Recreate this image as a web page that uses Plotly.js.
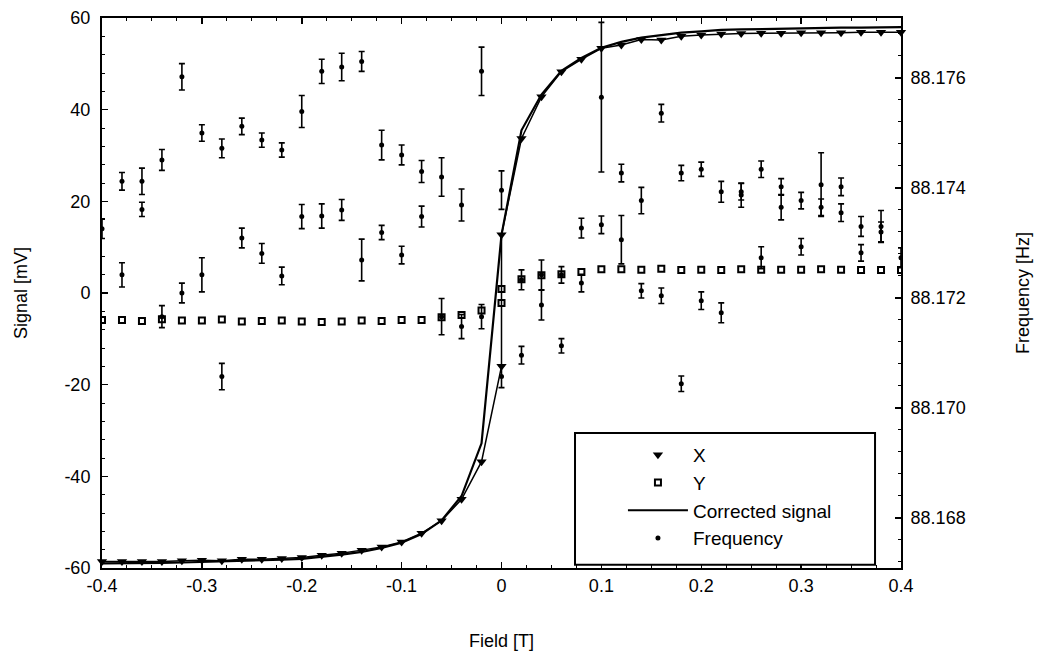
<!DOCTYPE html>
<html>
<head>
<meta charset="utf-8">
<script src="https://cdn.plot.ly/plotly-3.0.1.min.js"></script>
<style>html,body{margin:0;padding:0;background:#fff;}#chart{width:1042px;height:659px;}</style>
</head>
<body>
<div id="chart"></div>
<script>
// Field values for the lock-in signal (two readings at 0 T)
var signalField = [-0.40,-0.38,-0.36,-0.34,-0.32,-0.30,-0.28,-0.26,-0.24,-0.22,-0.20,-0.18,-0.16,-0.14,-0.12,-0.10,-0.08,-0.06,-0.04,-0.02,0.00,0.00,0.02,0.04,0.06,0.08,0.10,0.12,0.14,0.16,0.18,0.20,0.22,0.24,0.26,0.28,0.30,0.32,0.34,0.36,0.38,0.40];
var signalX = [-58.6,-58.6,-58.6,-58.6,-58.4,-58.3,-58.4,-58.1,-58.1,-57.9,-57.7,-57.2,-56.8,-56.1,-55.4,-54.3,-52.4,-49.7,-45.0,-36.8,-16.0,12.7,33.7,42.8,48.3,51.0,53.4,54.1,55.3,55.2,56.0,56.3,56.5,56.6,56.7,56.7,56.8,56.8,56.8,56.9,56.9,56.9];
var signalY = [-5.9,-5.9,-6.1,-5.7,-6.0,-6.0,-5.8,-6.2,-6.1,-6.0,-6.2,-6.3,-6.2,-6.0,-6.1,-5.9,-5.9,-5.3,-4.8,-3.8,-2.2,0.9,3.0,3.9,4.1,4.6,5.2,5.2,5.1,5.3,5.0,5.1,5.0,5.2,5.1,5.1,5.1,5.2,5.1,5.0,5.0,5.0];
var correctedSignal = [-59.0,-59.0,-58.9,-58.9,-58.8,-58.7,-58.6,-58.5,-58.4,-58.2,-58.0,-57.6,-57.1,-56.5,-55.6,-54.5,-52.6,-49.6,-44.3,-32.8,12.7,12.7,35.5,43.3,48.5,51.3,53.5,54.8,55.7,56.3,56.8,57.1,57.4,57.5,57.6,57.7,57.8,57.8,57.9,57.9,58.0,58.0];

// Frequency readings: two sweeps on the same field grid
var freqField = [-0.40,-0.38,-0.36,-0.34,-0.32,-0.30,-0.28,-0.26,-0.24,-0.22,-0.20,-0.18,-0.16,-0.14,-0.12,-0.10,-0.08,-0.06,-0.04,-0.02,0.00,0.02,0.04,0.06,0.08,0.10,0.12,0.14,0.16,0.18,0.20,0.22,0.24,0.26,0.28,0.30,0.32,0.34,0.36,0.38,0.40];
var freqSweepA = [88.17326,88.17412,88.17412,88.17451,88.17602,88.17500,88.17472,88.17512,88.17487,88.17469,88.17539,88.17612,88.17620,88.17630,88.17478,88.17460,88.17430,88.17420,88.17369,88.17612,88.17396,88.17233,88.17242,88.17242,88.17327,88.17565,88.17427,88.17377,88.17536,88.17427,88.17434,88.17393,88.17387,88.17434,88.17402,88.17377,88.17406,88.17402,88.17330,88.17330,88.17273];
var freqErrA = [0.00018,0.00016,0.00024,0.00019,0.00024,0.00015,0.00017,0.00015,0.00013,0.00013,0.00029,0.00022,0.00025,0.00018,0.00027,0.00018,0.00020,0.00035,0.00029,0.00044,0.00035,0.00018,0.00027,0.00015,0.00018,0.00136,0.00016,0.00024,0.00016,0.00014,0.00013,0.00019,0.00022,0.00015,0.00015,0.00015,0.00058,0.00016,0.00018,0.00029,0.00018];
var freqSweepB = [null,88.17242,88.17361,88.17166,88.17209,88.17242,88.17057,88.17309,88.17281,88.17240,88.17348,88.17349,88.17360,88.17269,88.17319,88.17278,88.17348,88.17166,88.17148,88.17166,88.17057,88.17096,88.17187,88.17113,88.17227,88.17333,88.17306,88.17213,88.17204,88.17044,88.17195,88.17173,88.17393,88.17273,88.17365,88.17293,88.17365,88.17355,88.17282,88.17320,null];
var freqErrB = [null,0.00022,0.00013,0.00020,0.00018,0.00031,0.00024,0.00018,0.00018,0.00016,0.00022,0.00022,0.00019,0.00038,0.00013,0.00016,0.00019,0.00033,0.00022,0.00022,0.00020,0.00016,0.00027,0.00013,0.00016,0.00016,0.00044,0.00013,0.00014,0.00014,0.00016,0.00018,0.00015,0.00020,0.00023,0.00015,0.00015,0.00016,0.00015,0.00018,null];

// Tick labels (hyphen minus as in the original)
var fieldTicks = [-0.4,-0.3,-0.2,-0.1,0,0.1,0.2,0.3,0.4];
var fieldTickText = ['-0.4','-0.3','-0.2','-0.1','0','0.1','0.2','0.3','0.4'];
var signalTicks = [-60,-40,-20,0,20,40,60];
var signalTickText = ['-60','-40','-20','0','20','40','60'];
var freqTicks = [88.168,88.170,88.172,88.174,88.176];
var freqTickText = ['88.168','88.170','88.172','88.174','88.176'];

var FONT = "Liberation Sans, Arial, sans-serif";
var FS = 18;

var traces = [
  {x: signalField, y: signalX, name: 'X', type: 'scatter', mode: 'markers',
   marker: {symbol: 'triangle-down', size: 9, color: '#000'}, cliponaxis: false},
  {x: signalField, y: signalX, type: 'scatter', mode: 'lines', showlegend: false, hoverinfo: 'skip',
   line: {color: '#000', width: 1.5}},
  {x: signalField, y: signalY, name: 'Y', type: 'scatter', mode: 'markers',
   marker: {symbol: 'square-open', size: 6, color: '#000', line: {width: 2, color: '#000'}}},
  {x: signalField, y: correctedSignal, name: 'Corrected signal', type: 'scatter', mode: 'lines',
   line: {color: '#000', width: 2.2}},
  {x: freqField.concat(freqField), y: freqSweepA.concat(freqSweepB), name: 'Frequency', type: 'scatter', mode: 'markers',
   yaxis: 'y2',
   marker: {symbol: 'circle', size: 5, color: '#000'},
   error_y: {type: 'data', array: freqErrA.concat(freqErrB), visible: true, color: '#000', thickness: 1.6, width: 3}}
];

var layout = {
  width: 1042, height: 659,
  margin: {l: 102, r: 141, t: 18, b: 91},
  paper_bgcolor: '#fff', plot_bgcolor: '#fff',
  font: {family: FONT, size: FS, color: '#000'},
  showlegend: true,
  xaxis: {
    range: [-0.4, 0.4], tickmode: 'array', tickvals: fieldTicks, ticktext: fieldTickText,
    showgrid: false, zeroline: false,
    showline: true, linewidth: 2, linecolor: '#000', mirror: 'ticks',
    ticks: 'inside', ticklen: 6, tickwidth: 1.5, tickcolor: '#000',
    minor: {dtick: 0.025, ticks: 'inside', ticklen: 3, tickwidth: 1, tickcolor: '#000'},
    tickfont: {family: FONT, size: FS},
    title: {text: 'Field [T]', font: {family: FONT, size: FS}, standoff: 40}
  },
  yaxis: {
    range: [-60, 60], tickmode: 'array', tickvals: signalTicks, ticktext: signalTickText,
    showgrid: false, zeroline: false,
    showline: true, linewidth: 2, linecolor: '#000',
    ticks: 'inside', ticklen: 6, tickwidth: 1.5, tickcolor: '#000',
    minor: {dtick: 4, ticks: 'inside', ticklen: 3, tickwidth: 1, tickcolor: '#000'},
    tickfont: {family: FONT, size: FS},
    ticklabelstandoff: 6,
    title: {text: 'Signal [mV]', font: {family: FONT, size: FS}, standoff: 32}
  },
  yaxis2: {
    overlaying: 'y', side: 'right',
    range: [88.16709, 88.17709], tickmode: 'array', tickvals: freqTicks, ticktext: freqTickText,
    showgrid: false, zeroline: false,
    showline: true, linewidth: 2, linecolor: '#000',
    ticks: 'inside', ticklen: 6, tickwidth: 1.5, tickcolor: '#000',
    minor: {dtick: 0.0004, tick0: 88.168, ticks: 'inside', ticklen: 3, tickwidth: 1, tickcolor: '#000'},
    tickfont: {family: FONT, size: FS},
    ticklabelstandoff: 4,
    title: {text: 'Frequency [Hz]', font: {family: FONT, size: FS}, standoff: 52}
  },
  legend: {
    x: 0.652, y: 0.240, xanchor: 'left', yanchor: 'top',
    bgcolor: 'rgba(0,0,0,0)', borderwidth: 0,
    font: {family: FONT, size: 19}, itemwidth: 60, tracegroupgap: 0
  },
  shapes: [
    {type: 'rect', xref: 'paper', yref: 'paper', x0: 0.592, x1: 0.9675, y0: 0.006, y1: 0.2455,
     fillcolor: '#fff', line: {color: '#000', width: 2}, layer: 'above'}
  ]
};

Plotly.newPlot('chart', traces, layout, {staticPlot: true, displayModeBar: false});
</script>
</body>
</html>
